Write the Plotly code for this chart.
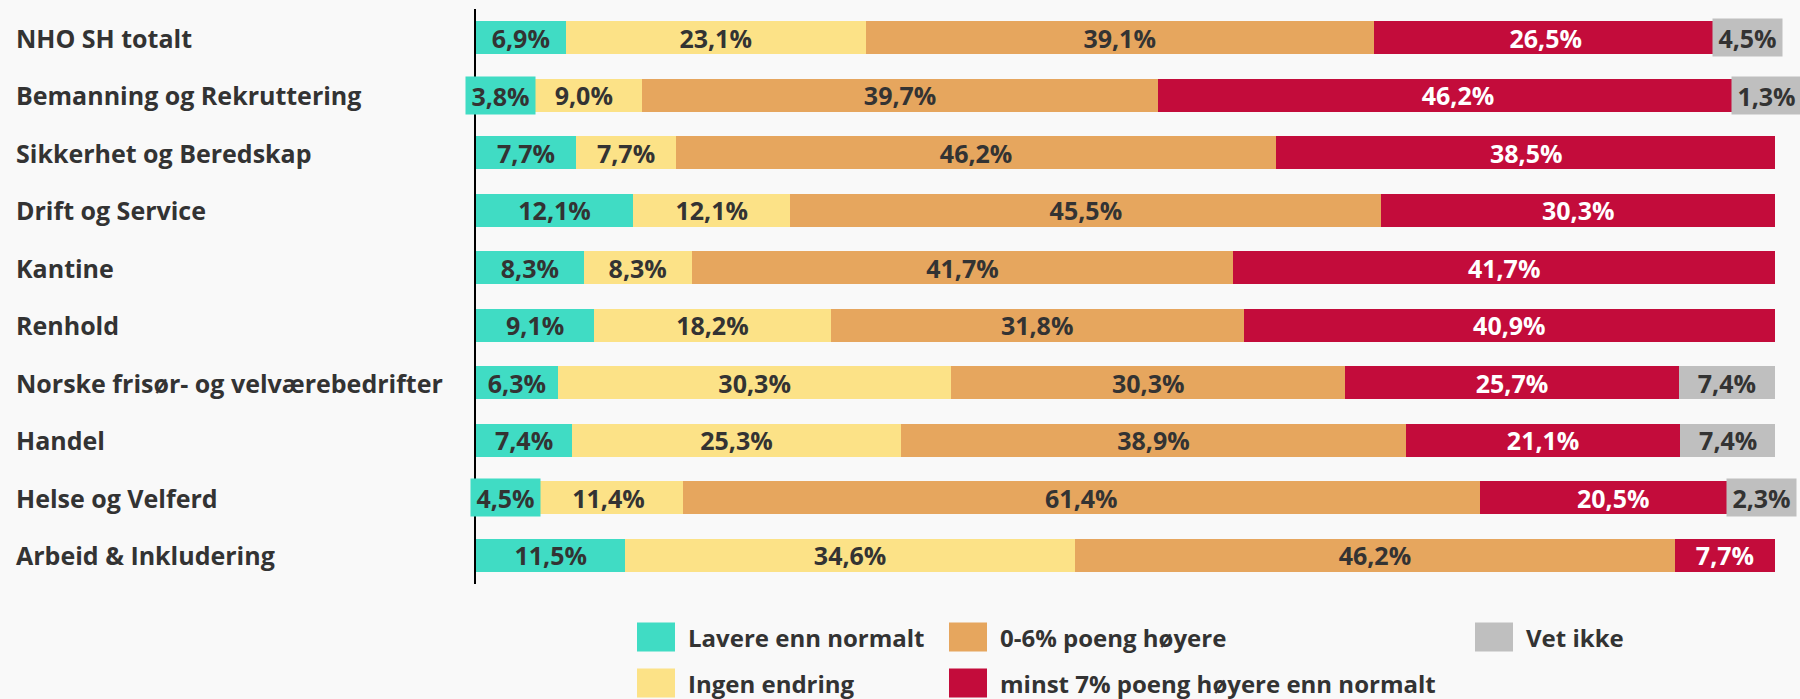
import plotly.graph_objects as go

categories = [
    "NHO SH totalt",
    "Bemanning og Rekruttering",
    "Sikkerhet og Beredskap",
    "Drift og Service",
    "Kantine",
    "Renhold",
    "Norske frisør- og velværebedrifter",
    "Handel",
    "Helse og Velferd",
    "Arbeid & Inkludering",
]

series_names = [
    "Lavere enn normalt",
    "Ingen endring",
    "0-6% poeng høyere",
    "minst 7% poeng høyere enn normalt",
    "Vet ikke",
]

lavere = [6.9, 3.8, 7.7, 12.1, 8.3, 9.1, 6.3, 7.4, 4.5, 11.5]
ingen = [23.1, 9.0, 7.7, 12.1, 8.3, 18.2, 30.3, 25.3, 11.4, 34.6]
hoyere_0_6 = [39.1, 39.7, 46.2, 45.5, 41.7, 31.8, 30.3, 38.9, 61.4, 46.2]
minst_7 = [26.5, 46.2, 38.5, 30.3, 41.7, 40.9, 25.7, 21.1, 20.5, 7.7]
vet_ikke = [4.5, 1.3, None, None, None, None, 7.4, 7.4, 2.3, None]

series_values = [lavere, ingen, hoyere_0_6, minst_7, vet_ikke]
colors = ["#40DCC4", "#FCE287", "#E6A65E", "#C30C3B", "#BFBFBF"]
text_colors = ["#333333", "#333333", "#333333", "#FFFFFF", "#333333"]

FONT = "Open Sans"
BG = "#F9F9F9"
W, H = 1800, 699
L, R, T, B = 476, 25, 9, 115
PW, PH = W - L - R, H - T - B
SMALL = 5.0


def fmt(v):
    return f"{v:.1f}".replace(".", ",") + "%"


def px_x(px):
    return (px - L) / PW


def px_y(py):
    return (H - B - py) / PH


fig = go.Figure()
annotations = []
cum = [0.0] * len(categories)

for name, vals, col, tcol in zip(series_names, series_values, colors, text_colors):
    xs = [v if v is not None else 0 for v in vals]
    texts = []
    for i, v in enumerate(vals):
        if v is None:
            texts.append("")
        elif v < SMALL:
            texts.append("")
            annotations.append(dict(
                x=cum[i] + v / 2, y=categories[i], xref="x", yref="y",
                text=fmt(v), showarrow=False, bgcolor=col,
                font=dict(family=FONT, size=25, color=tcol, weight="bold"),
                width=63, height=31, borderpad=3, xanchor="center", yanchor="middle",
            ))
        else:
            texts.append(fmt(v))
    for i, v in enumerate(xs):
        cum[i] += v
    fig.add_trace(go.Bar(
        y=categories, x=xs, name=name, orientation="h",
        marker=dict(color=col, line=dict(width=0)),
        text=texts, textposition="inside", insidetextanchor="middle",
        textangle=0, constraintext="none",
        textfont=dict(family=FONT, size=25, color=tcol, weight="bold"),
        showlegend=False, hoverinfo="skip",
    ))

# category labels, left aligned
for c in categories:
    annotations.append(dict(
        x=px_x(14), y=c, xref="paper", yref="y", text=c, showarrow=False,
        xanchor="left", yanchor="middle",
        font=dict(family=FONT, size=25, color="#333333", weight="bold"),
    ))

# manual legend (column-major layout)
legend_layout = [
    (0, 637, 637), (1, 637, 683), (2, 949, 637), (3, 949, 683), (4, 1475, 637),
]
shapes = []
for idx, lx, ly in legend_layout:
    shapes.append(dict(
        type="rect", xref="paper", yref="paper",
        x0=px_x(lx), x1=px_x(lx + 38), y0=px_y(ly - 14.5), y1=px_y(ly + 14.5),
        fillcolor=colors[idx], line=dict(width=0),
    ))
    annotations.append(dict(
        x=px_x(lx + 49), y=px_y(ly), xref="paper", yref="paper",
        text=series_names[idx], showarrow=False, xanchor="left", yanchor="middle",
        font=dict(family=FONT, size=24, color="#333333", weight="bold"),
    ))

fig.update_layout(
    barmode="stack",
    bargap=0.427,
    width=W, height=H,
    margin=dict(l=L, r=R, t=T, b=B, pad=0),
    paper_bgcolor=BG,
    plot_bgcolor=BG,
    showlegend=False,
    annotations=annotations,
    shapes=shapes,
    xaxis=dict(range=[0, 100], visible=False, fixedrange=True),
    yaxis=dict(
        autorange="reversed", showticklabels=False, ticks="",
        showline=True, linecolor="#000000", linewidth=2,
        showgrid=False, zeroline=False, fixedrange=True,
    ),
    font=dict(family=FONT),
)

fig.write_html(
    "out.html",
    config={"displayModeBar": False},
    post_script=(
        "document.body.style.margin='0';"
        "document.body.style.overflow='hidden';"
        f"document.body.style.background='{BG}';"
    ),
)
